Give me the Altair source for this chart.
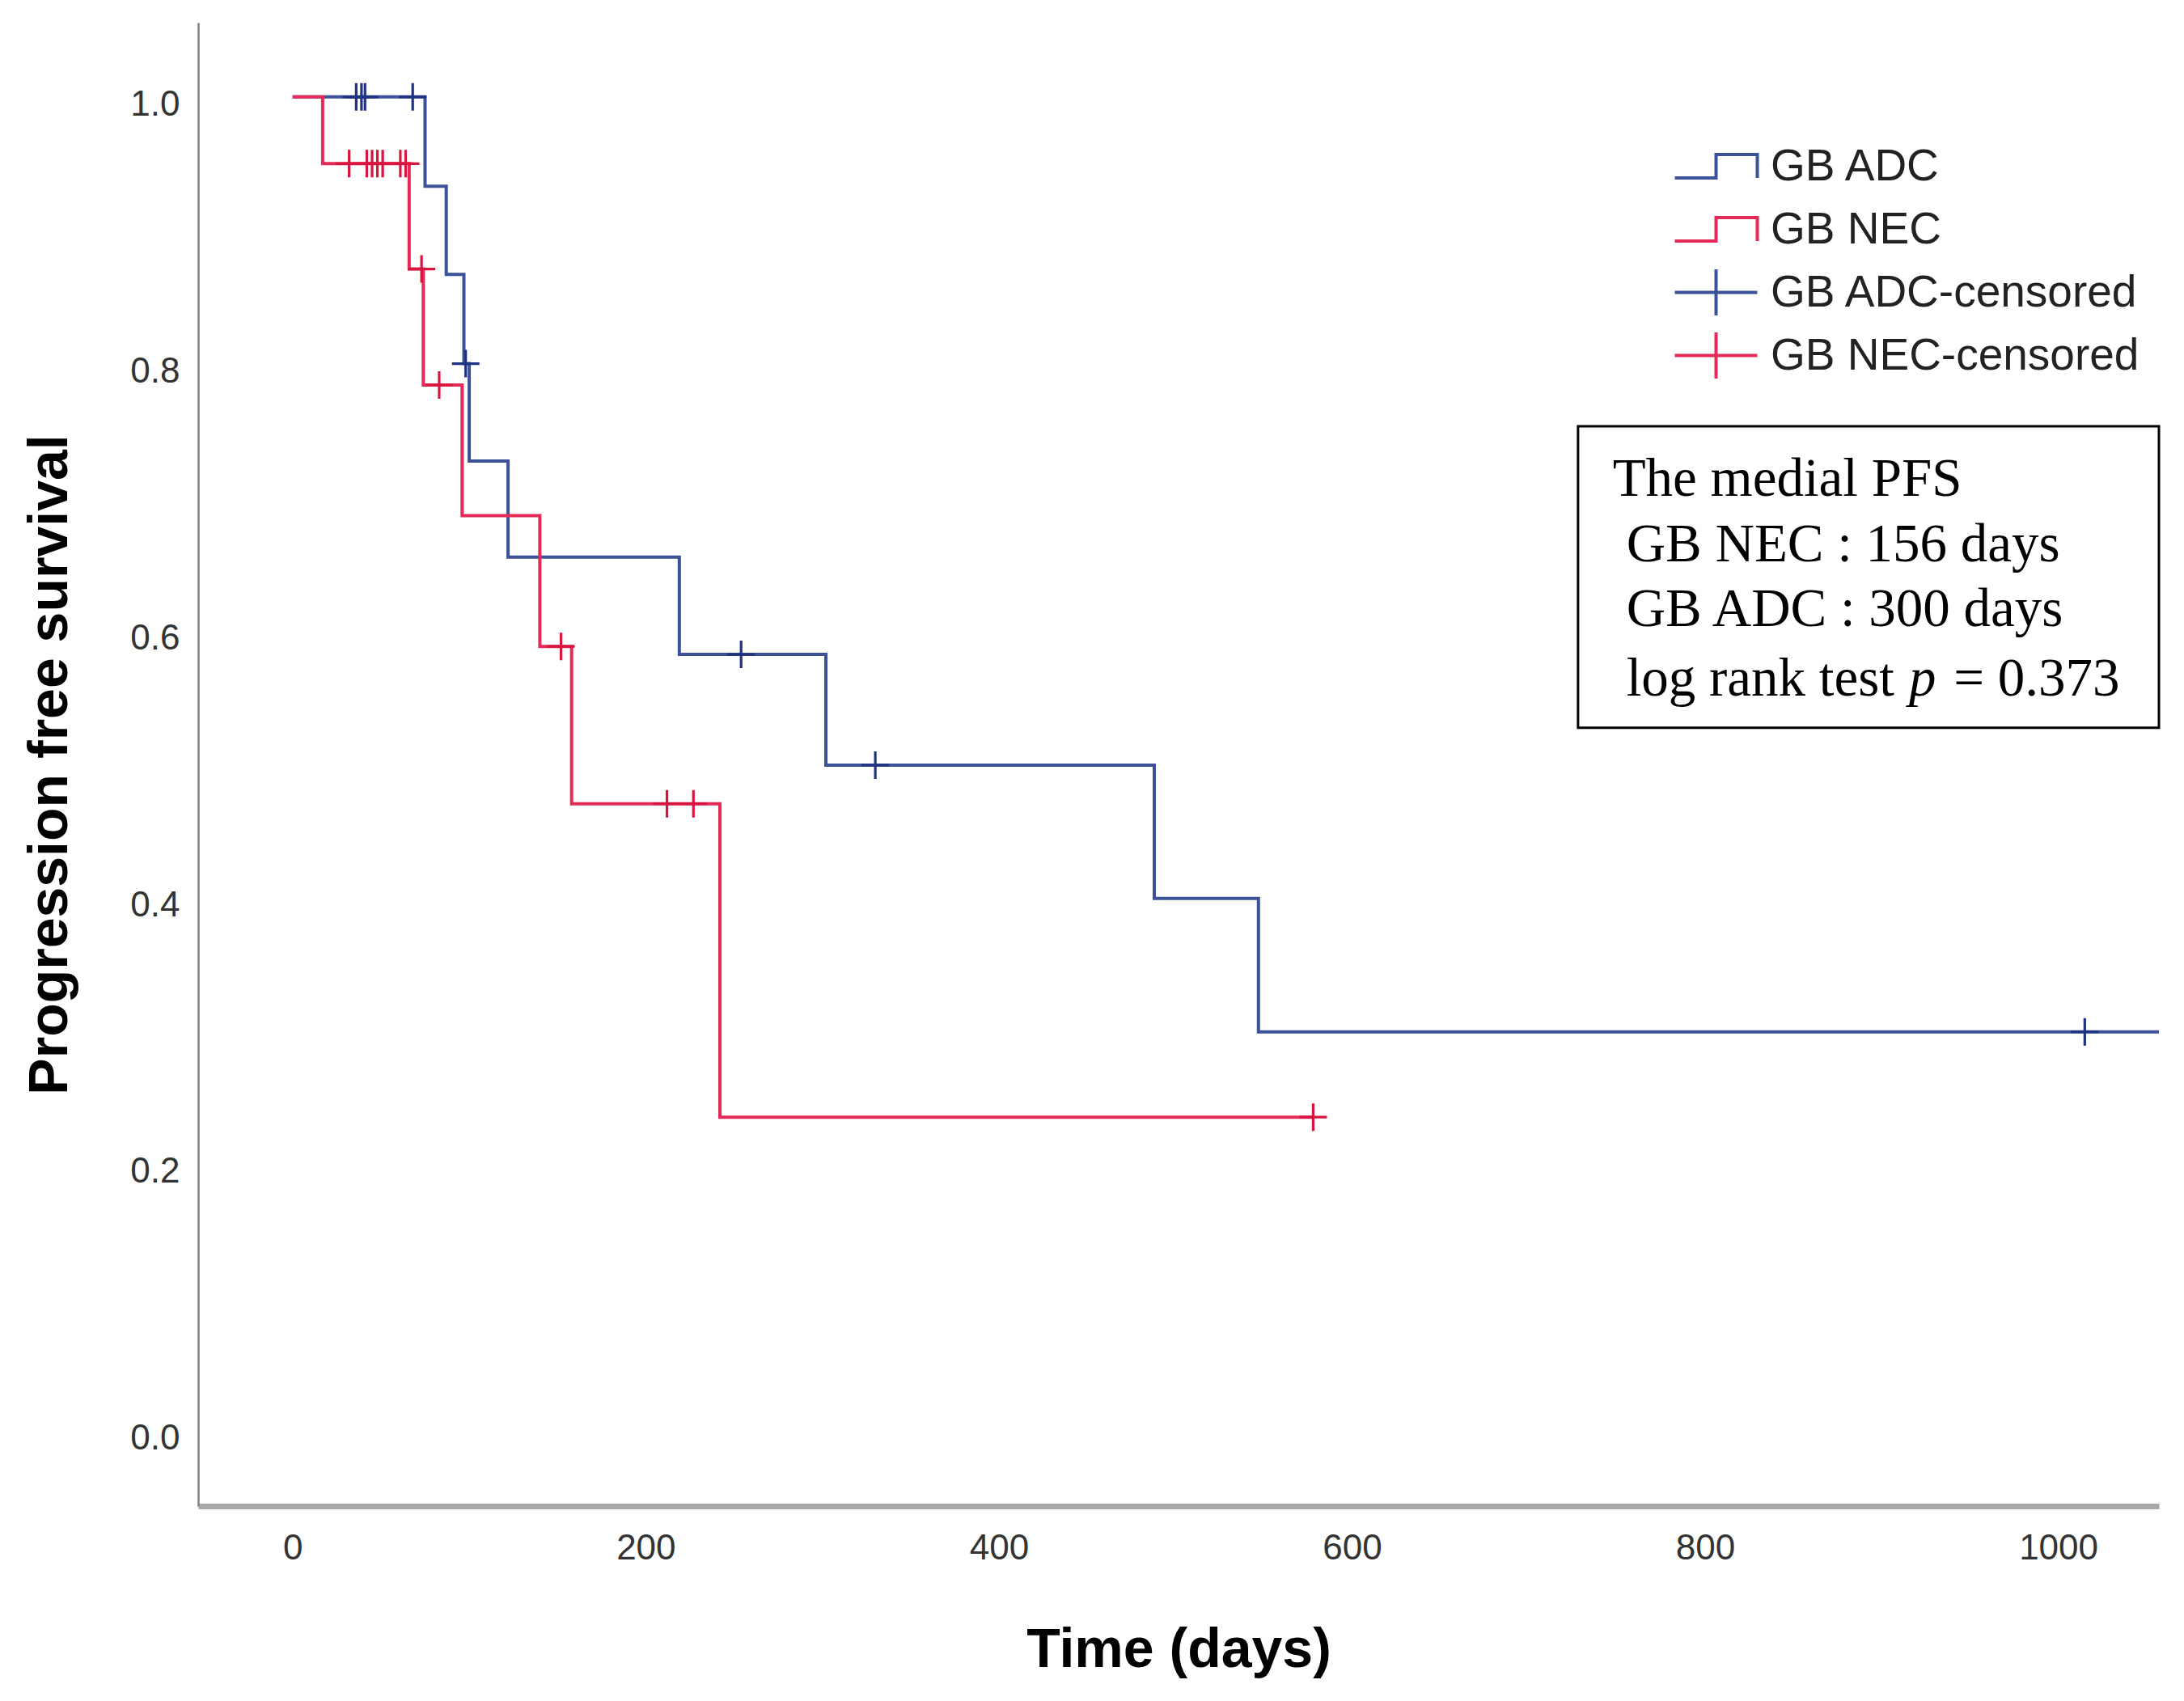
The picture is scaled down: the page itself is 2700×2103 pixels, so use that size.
import altair as alt
import pandas as pd

# ---------------- data ----------------
legend_labels = ["GB ADC", "GB NEC", "GB ADC-censored", "GB NEC-censored"]

# GB ADC Kaplan-Meier steps (time in days, survival after the step)
adc_step_time = [0, 75, 87, 97, 100, 122, 219, 302, 488, 547, 1057]
adc_step_surv = [1.0, 0.933, 0.867, 0.800, 0.727, 0.655, 0.582, 0.499, 0.399, 0.299, 0.299]
adc_cens_time = [36, 39, 41, 68, 98, 254, 330, 1015]
adc_cens_surv = [1.0, 1.0, 1.0, 1.0, 0.800, 0.582, 0.499, 0.299]

# GB NEC Kaplan-Meier steps
nec_step_time = [0, 17, 66, 74, 96, 140, 158, 242, 578]
nec_step_surv = [1.0, 0.950, 0.871, 0.784, 0.686, 0.588, 0.470, 0.235, 0.235]
nec_cens_time = [32, 42, 45, 48, 51, 61, 64, 73, 83, 152, 212, 227, 578]
nec_cens_surv = [0.950, 0.950, 0.950, 0.950, 0.950, 0.950, 0.950, 0.871, 0.784, 0.588, 0.470, 0.470, 0.235]

x_ticks = [0, 200, 400, 600, 800, 1000]
y_ticks = [0.0, 0.2, 0.4, 0.6, 0.8, 1.0]

box_lines = ["The medial PFS", "GB NEC : 156 days", "GB ADC : 300 days", "log rank test", "= 0.373"]
box_italic = ["p"]

# ---------------- layout / style constants ----------------
BLUE = "#3b5299"
RED = "#e42a57"
BLUE_C = "#1f3380"
RED_C = "#d8143f"
SANS = "Liberation Sans"
SERIF = "Liberation Serif"

X_DOMAIN = [-53.5, 1057]
Y_DOMAIN = [-0.0566, 1.0557]

PLUS = "M-1,0L1,0M0,-1L0,1"
STEP_L = "M-2.55,0.73L0,0.73L0,-0.73L2.55,-0.73L2.55,0.73"
PLUS_L = "M-2.55,0L2.55,0M0,-1.43L0,1.43"

# annotation anchor positions (data units)
BOX_T0, BOX_T1 = 728, 1057
BOX_V0, BOX_V1 = 0.753, 0.527
TXT_T = [747.6, 755.4, 755.4, 755.4, 940.7]
TXT_V = [0.701, 0.652, 0.603, 0.551, 0.551]
ITAL_T = [915.4]
ITAL_V = [0.551]

x_scale = alt.Scale(domain=X_DOMAIN, nice=False, zero=False)
y_scale = alt.Scale(domain=Y_DOMAIN, nice=False, zero=False)

x_enc = alt.X(
    "time:Q", scale=x_scale, title="Time (days)",
    axis=alt.Axis(values=x_ticks, format="d", ticks=False, tickSize=0, grid=False,
                  domainColor="#a8a8a8", domainWidth=7,
                  labelFont=SANS, labelFontSize=44, labelColor="#333333", labelPadding=30,
                  labelFlush=False, labelOverlap=False,
                  titleFont=SANS, titleFontSize=68, titleFontWeight="bold", titleColor="#000000",
                  titlePadding=70))
y_enc = alt.Y(
    "surv:Q", scale=y_scale, title="Progression free survival",
    axis=alt.Axis(values=y_ticks, format=".1f", ticks=False, tickSize=0, grid=False,
                  domainColor="#7f7f7f", domainWidth=2.5,
                  labelFont=SANS, labelFontSize=44, labelColor="#333333", labelPadding=23,
                  labelOffset=10, labelFlush=False, labelOverlap=False,
                  titleFont=SANS, titleFontSize=68, titleFontWeight="bold", titleColor="#000000",
                  titlePadding=64))

adc_df = pd.DataFrame({"time": adc_step_time, "surv": adc_step_surv})
nec_df = pd.DataFrame({"time": nec_step_time, "surv": nec_step_surv})
adc_c_df = pd.DataFrame({"time": adc_cens_time, "surv": adc_cens_surv})
nec_c_df = pd.DataFrame({"time": nec_cens_time, "surv": nec_cens_surv})

adc_line = alt.Chart(adc_df).mark_line(interpolate="step-after", color=BLUE, strokeWidth=4).encode(x=x_enc, y=y_enc)
nec_line = alt.Chart(nec_df).mark_line(interpolate="step-after", color=RED, strokeWidth=4).encode(x=x_enc, y=y_enc)
adc_cens = alt.Chart(adc_c_df).mark_point(shape=PLUS, size=1156, filled=False, color=BLUE_C,
                                          strokeWidth=3.2, opacity=1).encode(x=x_enc, y=y_enc)
nec_cens = alt.Chart(nec_c_df).mark_point(shape=PLUS, size=1156, filled=False, color=RED_C,
                                          strokeWidth=3.2, opacity=1).encode(x=x_enc, y=y_enc)

# legend carrier (invisible points, legend only)
leg_df = pd.DataFrame({"time": [adc_step_time[0]] * 4, "surv": [adc_step_surv[0]] * 4, "series": legend_labels})
leg_cfg = dict(title=None, orient="none", legendX=1849, legendY=150, symbolSize=1600,
               symbolStrokeWidth=4, symbolOpacity=1, labelFontSize=55, labelFont=SANS,
               labelColor="#222222", rowPadding=3, labelOffset=40, padding=0, gridAlign="all",
               labelLimit=1000)
legend_layer = alt.Chart(leg_df).mark_point(filled=False, opacity=0).encode(
    x=x_enc, y=y_enc,
    color=alt.Color("series:N", scale=alt.Scale(domain=legend_labels, range=[BLUE, RED, BLUE, RED]),
                    legend=alt.Legend(**leg_cfg)),
    shape=alt.Shape("series:N", scale=alt.Scale(domain=legend_labels, range=[STEP_L, STEP_L, PLUS_L, PLUS_L]),
                    legend=alt.Legend(**leg_cfg)),
)

box_df = pd.DataFrame({"time": [BOX_T0], "time2": [BOX_T1], "surv": [BOX_V0], "surv2": [BOX_V1]})
box = alt.Chart(box_df).mark_rect(fill="white", stroke="black", strokeWidth=3).encode(
    x=x_enc, x2="time2:Q", y=y_enc, y2="surv2:Q")

txt_df = pd.DataFrame({"time": TXT_T, "surv": TXT_V, "label": box_lines})
txt = alt.Chart(txt_df).mark_text(align="left", baseline="alphabetic", font=SERIF, fontSize=67,
                                  color="#000000").encode(x=x_enc, y=y_enc, text="label:N")
ital_df = pd.DataFrame({"time": ITAL_T, "surv": ITAL_V, "label": box_italic})
ital = alt.Chart(ital_df).mark_text(align="left", baseline="alphabetic", font=SERIF, fontSize=67,
                                    fontStyle="italic", color="#000000").encode(x=x_enc, y=y_enc, text="label:N")

chart = alt.layer(legend_layer, adc_line, nec_line, adc_cens, nec_cens, box, txt, ital).properties(
    width=2424, height=1834,
    padding={"left": 20, "top": 20, "right": 10, "bottom": 10},
    view=alt.ViewBackground(stroke="transparent", strokeWidth=0),
).configure_view(strokeWidth=0, stroke="transparent").configure(background="white")

chart.save("out.html", embed_options={"renderer": "svg", "actions": False})
